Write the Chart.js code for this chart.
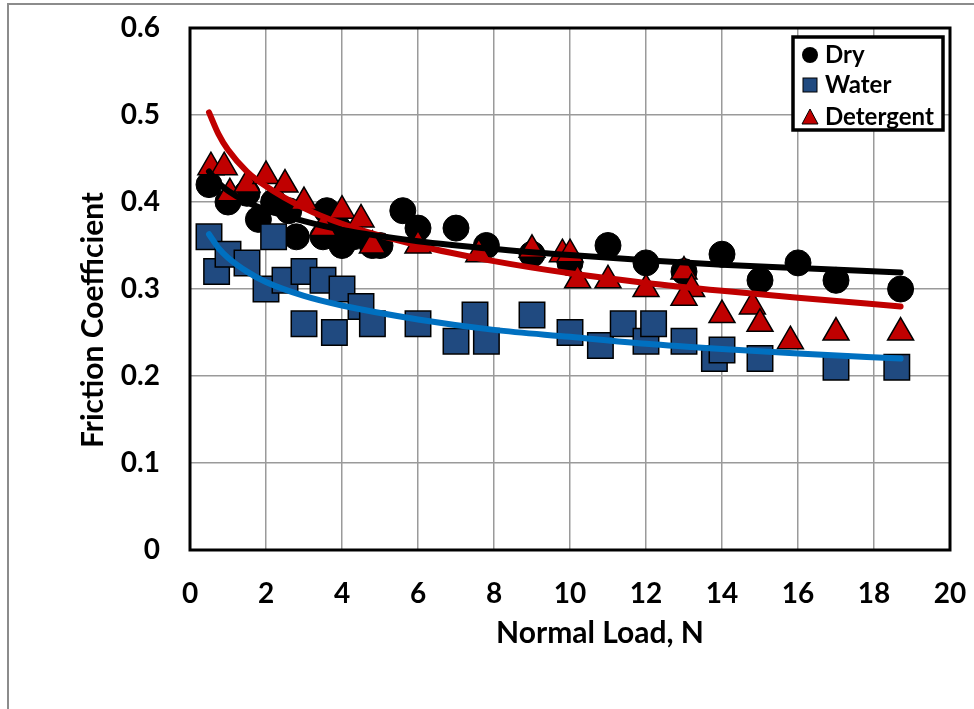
<!DOCTYPE html>
<html>
<head>
<meta charset="utf-8">
<script src="https://cdn.jsdelivr.net/npm/chart.js@4/dist/chart.umd.min.js"></script>
<style>
  html, body { margin: 0; padding: 0; background: #fff; }
  #wrap { width: 974px; height: 709px; position: relative; }
</style>
</head>
<body>
<div id="wrap"><canvas id="chart" width="974" height="709"></canvas></div>
<script>
// Friction coefficient vs normal load for three lubrication conditions

const dryLoad = [0.5, 1.0, 1.5, 1.8, 2.2, 2.6, 2.8, 3.5, 3.6, 3.9, 4.0, 4.3, 4.8, 5.0, 5.6, 6.0, 7.0, 7.8, 9.0, 10.0, 11.0, 12.0, 13.0, 14.0, 15.0, 16.0, 17.0, 18.7];
const dryCoef = [0.42, 0.40, 0.41, 0.38, 0.40, 0.39, 0.36, 0.36, 0.39, 0.37, 0.35, 0.36, 0.35, 0.35, 0.39, 0.37, 0.37, 0.35, 0.34, 0.33, 0.35, 0.33, 0.32, 0.34, 0.31, 0.33, 0.31, 0.30];

const waterLoad = [0.5, 0.7, 1.0, 1.5, 2.0, 2.2, 2.5, 3.0, 3.0, 3.5, 3.8, 4.0, 4.5, 4.8, 6.0, 7.0, 7.5, 7.8, 9.0, 10.0, 10.8, 11.4, 12.0, 12.2, 13.0, 13.8, 14.0, 15.0, 17.0, 18.6];
const waterCoef = [0.36, 0.32, 0.34, 0.33, 0.30, 0.36, 0.31, 0.32, 0.26, 0.31, 0.25, 0.30, 0.28, 0.26, 0.26, 0.24, 0.27, 0.24, 0.27, 0.25, 0.235, 0.26, 0.24, 0.26, 0.24, 0.22, 0.23, 0.22, 0.21, 0.21];

const detLoad = [0.55, 0.9, 1.05, 1.5, 2.0, 2.5, 3.0, 3.5, 4.0, 4.5, 4.8, 6.0, 7.6, 9.0, 9.8, 10.0, 10.2, 11.0, 12.0, 13.0, 13.2, 13.0, 14.0, 14.8, 15.0, 15.8, 17.0, 18.7];
const detCoef = [0.44, 0.44, 0.41, 0.42, 0.43, 0.42, 0.40, 0.37, 0.39, 0.38, 0.35, 0.35, 0.34, 0.345, 0.34, 0.34, 0.31, 0.31, 0.30, 0.32, 0.30, 0.29, 0.27, 0.28, 0.26, 0.24, 0.25, 0.25];

// Trend curves, sampled along each fitted line
const trendLoad = [0.5, 0.75, 1, 1.5, 2, 3, 4, 6, 8, 10, 12, 14, 16, 18.7];
const dryTrend = [0.435, 0.422, 0.413, 0.400, 0.391, 0.378, 0.368, 0.355, 0.346, 0.339, 0.333, 0.328, 0.324, 0.319];
const waterTrend = [0.363, 0.347, 0.336, 0.320, 0.308, 0.292, 0.281, 0.265, 0.253, 0.245, 0.237, 0.231, 0.226, 0.220];
const detTrend = [0.503, 0.478, 0.460, 0.435, 0.418, 0.393, 0.375, 0.350, 0.332, 0.318, 0.307, 0.298, 0.290, 0.280];

const loadTickLabels = ['0', '2', '4', '6', '8', '10', '12', '14', '16', '18', '20'];
const coefTickLabels = ['0', '0.1', '0.2', '0.3', '0.4', '0.5', '0.6'];

const seriesNames = ['Dry', 'Water', 'Detergent'];
const xTitle = 'Normal Load, N';
const yTitle = 'Friction Coefficient';

const FONT = 'Lato, "Open Sans", sans-serif';
const DRY_FILL = '#000000';
const WATER_FILL = '#204A80';
const DET_FILL = '#C00000';
const WATER_LINE = '#0070C0';

const pts = (xs, ys) => xs.map((x, i) => ({ x: x, y: ys[i] }));

// Fixed axis box sizes; tick labels may overhang the plot edges freely
const fixBox = (s, w, h) => {
  if (w !== null) s.width = w;
  if (h !== null) s.height = h;
  s.paddingTop = 0; s.paddingBottom = 0; s.paddingLeft = 0; s.paddingRight = 0;
};

// Outer chart frame, plot border, axis titles and the boxed legend
const decorations = {
  id: 'decorations',
  beforeDraw(chart) {
    const c = chart.ctx;
    c.save();
    c.fillStyle = '#ffffff';
    c.fillRect(0, 0, chart.width, chart.height);
    c.strokeStyle = '#8c8c8c';
    c.lineWidth = 2;
    c.beginPath();
    c.moveTo(8, chart.height + 2);
    c.lineTo(8, 4);
    c.lineTo(chart.width + 2, 4);
    c.stroke();
    c.restore();
  },
  beforeDatasetsDraw(chart) {
    const a = chart.chartArea;
    const c = chart.ctx;
    c.save();
    c.strokeStyle = '#000000';
    c.lineWidth = 3;
    c.strokeRect(a.left, a.top, a.right - a.left, a.bottom - a.top);
    c.restore();
  },
  afterDraw(chart) {
    const c = chart.ctx;
    c.save();
    c.fillStyle = '#000000';
    c.font = 'bold 30px ' + FONT;
    c.textAlign = 'center';
    c.textBaseline = 'middle';
    c.fillText(xTitle, 600, 633);
    c.translate(93, 320);
    c.rotate(-Math.PI / 2);
    c.fillText(yTitle, 0, 0);
    c.restore();

    // legend
    c.save();
    c.fillStyle = '#ffffff';
    c.fillRect(793, 37, 150, 93);
    c.strokeStyle = '#000000';
    c.lineWidth = 3.5;
    c.strokeRect(793, 37, 150, 93);
    const rows = [55, 85, 117];
    c.lineWidth = 1;
    // circle
    c.beginPath();
    c.arc(810, rows[0], 8, 0, Math.PI * 2);
    c.fillStyle = DRY_FILL;
    c.fill();
    // square
    c.fillStyle = WATER_FILL;
    c.fillRect(803, rows[1] - 7, 14, 14);
    c.strokeRect(803, rows[1] - 7, 14, 14);
    // triangle
    c.beginPath();
    c.moveTo(810, rows[2] - 8);
    c.lineTo(818, rows[2] + 7);
    c.lineTo(802, rows[2] + 7);
    c.closePath();
    c.fillStyle = DET_FILL;
    c.fill();
    c.stroke();
    c.fillStyle = '#000000';
    c.font = 'bold 24px ' + FONT;
    c.textAlign = 'left';
    c.textBaseline = 'middle';
    seriesNames.forEach((n, i) => c.fillText(n, 825, rows[i]));
    c.restore();
  }
};

new Chart(document.getElementById('chart'), {
  type: 'scatter',
  data: {
    datasets: [
      {
        label: seriesNames[0] + ' trend', type: 'line', data: pts(trendLoad, dryTrend),
        borderColor: '#000000', borderWidth: 6, pointRadius: 0, fill: false,
        cubicInterpolationMode: 'monotone', borderCapStyle: 'round', order: 0
      },
      {
        label: seriesNames[1] + ' trend', type: 'line', data: pts(trendLoad, waterTrend),
        borderColor: WATER_LINE, borderWidth: 6, pointRadius: 0, fill: false,
        cubicInterpolationMode: 'monotone', borderCapStyle: 'round', order: 0
      },
      {
        label: seriesNames[2] + ' trend', type: 'line', data: pts(trendLoad, detTrend),
        borderColor: DET_FILL, borderWidth: 6, pointRadius: 0, fill: false,
        cubicInterpolationMode: 'monotone', borderCapStyle: 'round', order: 0
      },
      {
        label: seriesNames[2], data: pts(detLoad, detCoef),
        pointStyle: 'triangle', pointRadius: 15, pointHoverRadius: 15,
        backgroundColor: DET_FILL, borderColor: '#000000', borderWidth: 1.5, order: 1
      },
      {
        label: seriesNames[1], data: pts(waterLoad, waterCoef),
        pointStyle: 'rect', pointRadius: 18, pointHoverRadius: 18,
        backgroundColor: WATER_FILL, borderColor: '#000000', borderWidth: 1.5, order: 2
      },
      {
        label: seriesNames[0], data: pts(dryLoad, dryCoef),
        pointStyle: 'circle', pointRadius: 13, pointHoverRadius: 13,
        backgroundColor: DRY_FILL, borderColor: '#000000', borderWidth: 1, order: 3
      }
    ]
  },
  options: {
    responsive: false,
    animation: false,
    events: [],
    layout: { padding: { top: 28, right: 24, left: 0, bottom: 0 } },
    plugins: { legend: { display: false }, tooltip: { enabled: false } },
    scales: {
      x: {
        type: 'linear', min: 0, max: 20,
        afterFit: s => fixBox(s, null, 159),
        grid: { color: '#9a9a9a', lineWidth: 1.5, drawTicks: false },
        border: { display: false },
        ticks: {
          stepSize: 2, padding: 27, color: '#000000',
          font: { family: FONT, size: 28, weight: 'bold' },
          callback: (v, i) => loadTickLabels[i]
        }
      },
      y: {
        type: 'linear', min: 0, max: 0.6,
        afterFit: s => fixBox(s, 190, null),
        grid: { color: '#9a9a9a', lineWidth: 1.5, drawTicks: false },
        border: { display: false },
        ticks: {
          stepSize: 0.1, padding: 30, color: '#000000',
          font: { family: FONT, size: 28, weight: 'bold' },
          callback: (v, i) => coefTickLabels[i]
        }
      }
    }
  },
  plugins: [decorations]
});
</script>
</body>
</html>
